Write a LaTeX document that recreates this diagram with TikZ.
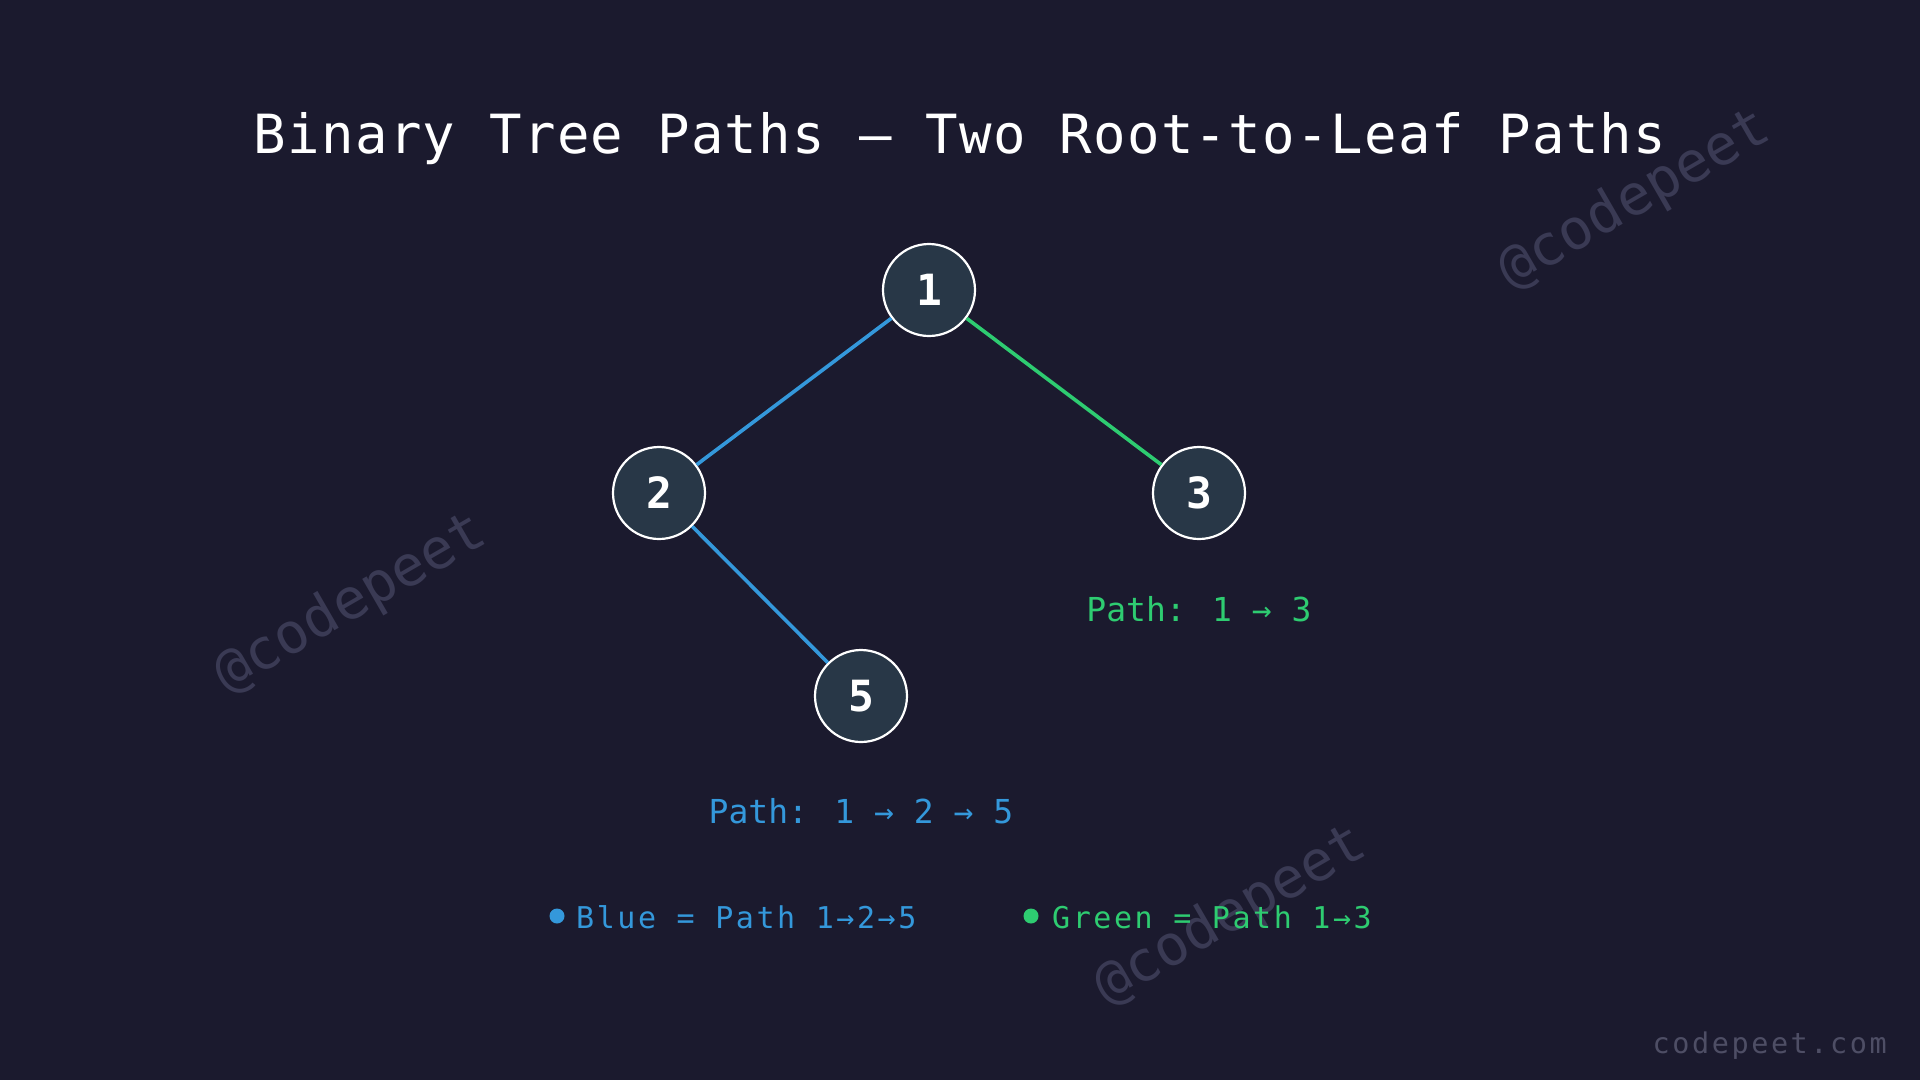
\documentclass[tikz,border=0pt]{standalone}
\usepackage{fontspec}
\setmainfont{DejaVu Sans Mono}
\newfontfamily\mono{DejaVu Sans Mono}
\newfontfamily\monotitle[LetterSpace=2.5]{DejaVu Sans Mono}
\newfontfamily\monoleg[LetterSpace=8.5]{DejaVu Sans Mono}
\newfontfamily\monofoot[LetterSpace=9]{DejaVu Sans Mono}
\newfontfamily\monobold[BoldFont={DejaVu Sans Mono Bold}]{DejaVu Sans Mono}
\definecolor{bg}{HTML}{1B1A2E}
\definecolor{nodefill}{HTML}{283747}
\definecolor{pblue}{HTML}{3498DB}
\definecolor{pgreen}{HTML}{2ECC71}
\definecolor{wm}{HTML}{3A3A54}
\tikzset{
  treenode/.style={circle, draw=white, line width=2.2pt, fill=nodefill, minimum size=92pt, inner sep=0pt,
    text=white, font=\monobold\bfseries\fontsize{43}{45}\selectfont},
  blueedge/.style={draw=pblue, line width=3.6pt},
  greenedge/.style={draw=pgreen, line width=3.6pt},
  pathlabel/.style={anchor=base, inner sep=0pt, font=\mono\fontsize{33}{36}\selectfont},
  legtext/.style={anchor=base west, inner sep=0pt, font=\monoleg\fontsize{30}{32}\selectfont},
  legdot/.style={circle, minimum size=15pt, inner sep=0pt},
  watermark/.style={text=wm, rotate=30, inner sep=0pt, font=\mono\fontsize{56}{60}\selectfont}
}
\begin{document}
\begin{tikzpicture}[x=1pt,y=-1pt]
\fill[bg] (0,0) rectangle (1920,1080);
\useasboundingbox (0,0) rectangle (1920,1080);
% watermarks
\node[watermark] (wm1) at (351,604) {@codepeet};
\node[watermark] (wm2) at (1635,200) {@codepeet};
\node[watermark] (wm3) at (1231,916) {@codepeet};
% title
\node[anchor=base, inner sep=0pt, text=white, font=\monotitle\fontsize{54}{58}\selectfont] (title) at (960,153) {Binary Tree Paths — Two Root-to-Leaf Paths};
% nodes
\node[treenode] (n1) at (929,290) {1};
\node[treenode] (n2) at (659,493) {2};
\node[treenode] (n3) at (1199,493) {3};
\node[treenode] (n5) at (861,696) {5};
% edges
\draw[blueedge] (n1) -- (n2);
\draw[blueedge] (n2) -- (n5);
\draw[greenedge] (n1) -- (n3);
% path labels
\node[pathlabel, text=pgreen] (lab3) at (1199,621) {Path: 1 → 3};
\node[pathlabel, text=pblue] (lab5) at (861,823) {Path: 1 → 2 → 5};
% legend
\node[legdot, fill=pblue] (dotb) at (557,916) {};
\node[legtext, text=pblue] (legb) at (576,928) {Blue = Path 1→2→5};
\node[legdot, fill=pgreen] (dotg) at (1031,916) {};
\node[legtext, text=pgreen] (legg) at (1052,928) {Green = Path 1→3};
% footer
\node[anchor=base east, inner sep=0pt, text=wm!90!white, font=\monofoot\fontsize{28.5}{30}\selectfont] (foot) at (1887,1053) {codepeet.com};
\end{tikzpicture}
\end{document}
